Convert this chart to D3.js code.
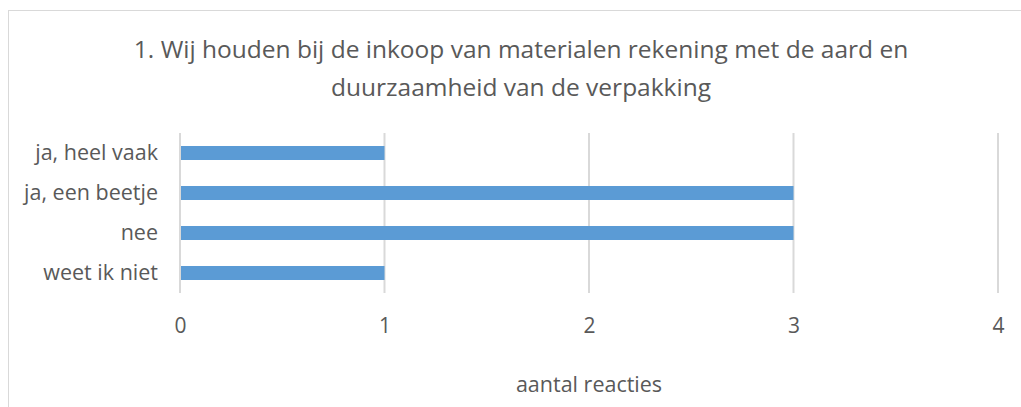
<!DOCTYPE html>
<html><head><meta charset="utf-8">
<script src="https://cdn.jsdelivr.net/npm/d3@7"></script>
<style>body{margin:0;background:#fff;} svg{display:block;} text{font-family:"Open Sans",sans-serif;fill:#595959;}</style>
</head><body><svg id="c" width="1021" height="407"></svg>
<script>
const categories = ["ja, heel vaak", "ja, een beetje", "nee", "weet ik niet"];
const values = [1, 3, 3, 1];
const xTicks = [0, 1, 2, 3, 4];
const titleLines = ["1. Wij houden bij de inkoop van materialen rekening met de aard en", "duurzaamheid van de verpakking"];
const xLabel = "aantal reacties";

(function () {
const svg = d3.select("#c");
svg.append("rect").attr("x", 8.5).attr("y", 10.5).attr("width", 1040).attr("height", 420)
  .attr("fill", "#fff").attr("stroke", "#d9d9d9").attr("stroke-width", 1);

const pL = 180, pR = 998, pT = 133, pB = 293;
const x = d3.scaleLinear().domain([0, 4]).range([pL, pR]);
const y = d3.scaleBand().domain(categories).range([pT, pB]).paddingInner(0.65).paddingOuter(0.325);

svg.append("g").selectAll("line").data(xTicks).join("line")
  .attr("x1", d => x(d)).attr("x2", d => x(d)).attr("y1", pT).attr("y2", pB)
  .attr("stroke", "#d9d9d9").attr("stroke-width", 2);

svg.append("g").selectAll("rect").data(values).join("rect")
  .attr("x", x(0) + 1).attr("y", (d, i) => y(categories[i]))
  .attr("width", d => x(d) - x(0) - 1).attr("height", y.bandwidth()).attr("fill", "#5b9bd5");

const ax = d3.axisBottom(x).tickValues(xTicks).tickSize(0).tickPadding(0).tickFormat(d3.format("d"));
const gx = svg.append("g").attr("transform", `translate(0,333)`).call(ax);
gx.select(".domain").remove();
gx.selectAll("text").style("font-size", "21px").attr("dy", "0");

const ay = d3.axisLeft(y).tickSize(0).tickPadding(0);
const gy = svg.append("g").attr("transform", `translate(${pL - 22},0)`).call(ay);
gy.select(".domain").remove();
gy.selectAll("text").style("font-size", "21.5px").attr("dy", "0.34em");

svg.append("g").selectAll("text").data(titleLines).join("text")
  .attr("x", 521).attr("y", (d, i) => 58 + i * 38).attr("text-anchor", "middle")
  .style("font-size", "24.5px").text(d => d);

svg.append("text").attr("x", (pL + pR) / 2).attr("y", 392).attr("text-anchor", "middle")
  .style("font-size", "21.5px").text(xLabel);
})();
</script></body></html>
